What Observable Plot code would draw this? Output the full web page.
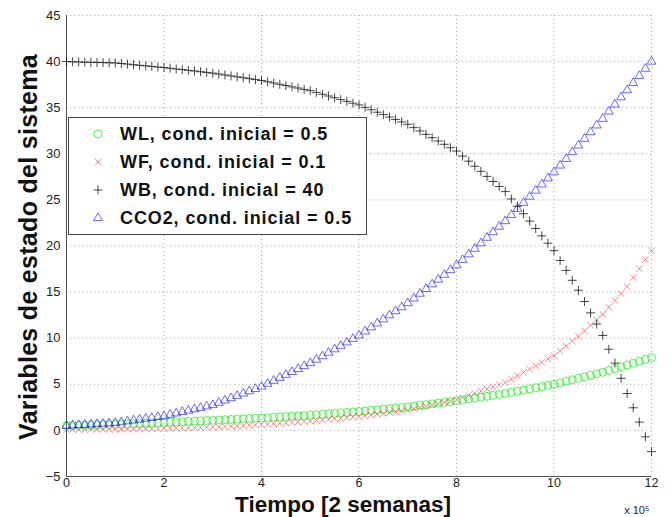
<!DOCTYPE html>
<html>
<head>
<meta charset="utf-8">
<script src="https://cdn.jsdelivr.net/npm/d3@7"></script>
<script src="https://cdn.jsdelivr.net/npm/@observablehq/plot@0.6"></script>
<style>
  html, body { margin: 0; padding: 0; background: #fff; }
  #wrap { position: relative; width: 667px; height: 517px; }
  #legend { position: absolute; left: 68px; top: 117px; width: 299px; height: 118px;
    border: 1px solid #444; background: #fff; box-sizing: border-box;
    font-family: "Liberation Sans", Arial, sans-serif; font-weight: bold; font-size: 18px; letter-spacing: 0.9px; color: #111; }
  .row { position: absolute; left: 0; height: 28px; display: flex; align-items: center; white-space: nowrap; }
  .row svg { width: 20px; height: 20px; margin-left: 19px; margin-right: 12px; }
</style>
</head>
<body>
<div id="wrap"><div id="legend"></div></div>
<script>
// Time, units of 10^5 (2 semanas)
const time = [0,0.125,0.25,0.375,0.5,0.625,0.75,0.875,
1,1.125,1.25,1.375,1.5,1.625,1.75,1.875,
2,2.125,2.25,2.375,2.5,2.625,2.75,2.875,
3,3.125,3.25,3.375,3.5,3.625,3.75,3.875,
4,4.125,4.25,4.375,4.5,4.625,4.75,4.875,
5,5.125,5.25,5.375,5.5,5.625,5.75,5.875,
6,6.125,6.25,6.375,6.5,6.625,6.75,6.875,
7,7.125,7.25,7.375,7.5,7.625,7.75,7.875,
8,8.125,8.25,8.375,8.5,8.625,8.75,8.875,
9,9.125,9.25,9.375,9.5,9.625,9.75,9.875,
10,10.125,10.25,10.375,10.5,10.625,10.75,10.875,
11,11.125,11.25,11.375,11.5,11.625,11.75,11.875,
12];

const WL = [0.5,0.52,0.54,0.56,0.58,0.59,0.61,0.63,
0.65,0.68,0.7,0.73,0.75,0.78,0.8,0.83,
0.85,0.88,0.91,0.94,0.98,1.01,1.04,1.07,
1.1,1.13,1.16,1.19,1.23,1.26,1.29,1.32,
1.35,1.39,1.43,1.46,1.5,1.54,1.58,1.61,
1.65,1.7,1.75,1.8,1.85,1.9,1.95,2.0,
2.05,2.11,2.18,2.24,2.3,2.36,2.43,2.49,
2.55,2.63,2.71,2.79,2.88,2.96,3.04,3.12,
3.2,3.3,3.4,3.5,3.6,3.7,3.8,3.9,
4.0,4.13,4.25,4.38,4.5,4.63,4.75,4.88,
5.0,5.16,5.33,5.49,5.65,5.81,5.98,6.14,
6.3,6.5,6.7,6.9,7.1,7.3,7.5,7.7,
7.9];

const WF = [0.1,0.1,0.1,0.11,0.11,0.11,0.12,0.12,
0.12,0.13,0.14,0.15,0.16,0.17,0.18,0.19,
0.2,0.22,0.24,0.26,0.28,0.29,0.31,0.33,
0.35,0.38,0.42,0.45,0.49,0.52,0.55,0.59,
0.62,0.67,0.72,0.76,0.81,0.86,0.91,0.95,
1.0,1.06,1.13,1.19,1.25,1.31,1.38,1.44,
1.5,1.59,1.68,1.76,1.85,1.94,2.03,2.11,
2.2,2.34,2.48,2.61,2.75,2.89,3.03,3.16,
3.3,3.54,3.78,4.01,4.25,4.49,4.73,4.96,
5.2,5.56,5.93,6.29,6.65,7.01,7.38,7.74,
8.1,8.63,9.15,9.68,10.2,10.8,11.4,12.0,
12.6,13.35,14.1,14.85,15.6,16.58,17.55,18.53,
19.5];

const WB = [40.0,39.98,39.96,39.94,39.93,39.91,39.89,39.87,
39.85,39.79,39.73,39.66,39.6,39.54,39.48,39.41,
39.35,39.28,39.2,39.13,39.05,38.98,38.9,38.83,
38.75,38.65,38.55,38.45,38.35,38.25,38.15,38.05,
37.95,37.81,37.68,37.54,37.4,37.26,37.13,36.99,
36.85,36.66,36.46,36.27,36.08,35.88,35.69,35.49,
35.3,35.04,34.78,34.51,34.25,33.99,33.73,33.46,
33.2,32.84,32.48,32.11,31.75,31.39,31.03,30.66,
30.3,29.75,29.2,28.65,28.1,27.55,27.0,26.45,
25.9,25.1,24.3,23.5,22.7,21.9,21.1,20.3,
19.5,18.43,17.35,16.28,15.2,13.98,12.75,11.53,
10.3,8.8,7.3,5.65,4.0,2.45,0.9,-0.7,
-2.3];

const CCO2 = [0.5,0.54,0.58,0.61,0.65,0.69,0.73,0.76,
0.8,0.89,0.99,1.08,1.18,1.27,1.36,1.46,
1.55,1.7,1.85,2.0,2.15,2.3,2.45,2.6,
2.75,3.0,3.25,3.5,3.75,4.0,4.25,4.5,
4.75,5.07,5.39,5.71,6.03,6.34,6.66,6.98,
7.3,7.68,8.05,8.43,8.8,9.18,9.55,9.93,
10.3,10.74,11.18,11.61,12.05,12.49,12.93,13.36,
13.8,14.31,14.83,15.34,15.85,16.36,16.88,17.39,
17.9,18.5,19.1,19.7,20.3,20.9,21.5,22.1,
22.7,23.36,24.03,24.69,25.35,26.01,26.68,27.34,
28.0,28.73,29.45,30.18,30.9,31.63,32.35,33.08,
33.8,34.58,35.35,36.13,36.9,37.68,38.45,39.23,
40.0];

const seriesNames = ["WL, cond. inicial = 0.5", "WF, cond. inicial = 0.1", "WB, cond. inicial = 40", "CCO2, cond. inicial = 0.5"];
const seriesValues = [WL, WF, WB, CCO2];
const xTicks = [0, 2, 4, 6, 8, 10, 12];
const yTicks = [-5, 0, 5, 10, 15, 20, 25, 30, 35, 40, 45];
const xLabel = "Tiempo [2 semanas]";
const yLabel = "Variables de estado del sistema";
const xExponent = "x 10⁵";

// styles (kept apart from data)
const styles = [
  {symbol: "circle", r: 4, stroke: "#00ee00", opacity: 0.75, width: 0.9},
  {symbol: "times", r: 3, stroke: "#ff2020", opacity: 0.55, width: 1},
  {symbol: "plus", r: 3, stroke: "#000000", opacity: 0.72, width: 1},
  {symbol: "triangle", r: 3.3, stroke: "#1010ff", opacity: 0.7, width: 0.9}
];

const tables = seriesValues.map(vals => time.map((t, i) => ({t, v: vals[i]})));

const font = "'Liberation Sans', Arial, Helvetica, sans-serif";

const chart = Plot.plot({
  width: 667,
  height: 517,
  marginLeft: 66,
  marginRight: 16,
  marginTop: 15,
  marginBottom: 41,
  style: {fontFamily: font, background: "#fff", overflow: "visible"},
  x: {domain: [0, 12], label: null},
  y: {domain: [-5, 45], label: null},
  marks: [
    Plot.gridX(xTicks, {stroke: "#b0b0b0", strokeOpacity: 1, strokeDasharray: "1.2,2.8"}),
    Plot.gridY(yTicks, {stroke: "#b0b0b0", strokeOpacity: 1, strokeDasharray: "1.2,2.8"}),
    Plot.ruleX([0], {stroke: "#505050"}),
    Plot.ruleY([-5], {stroke: "#505050"}),
    Plot.axisX(xTicks, {tickSize: 0, tickPadding: 2, fontSize: 12.5, label: null, color: "#222"}),
    Plot.axisY(yTicks, {tickSize: 0, tickPadding: 6, fontSize: 13, label: null, color: "#222"}),
    ...tables.map((tab, i) => Plot.dot(tab, {
      x: "t", y: "v", symbol: () => styles[i].symbol, r: styles[i].r,
      stroke: styles[i].stroke, strokeOpacity: styles[i].opacity, strokeWidth: styles[i].width, fill: "none"
    })),
    Plot.text([xLabel], {frameAnchor: "bottom", textAnchor: "middle", lineAnchor: "middle", dx: -16, dy: 28,
      fontSize: 22.5, fontWeight: "bold", fill: "#111"}),
    Plot.text([yLabel], {frameAnchor: "left", textAnchor: "middle", lineAnchor: "middle", rotate: -90, dx: -38, dy: 1,
      fontSize: 25, fontWeight: "bold", fill: "#111"}),
    Plot.text([xExponent], {frameAnchor: "bottom-right", textAnchor: "end", lineAnchor: "middle", dx: -2, dy: 34,
      fontSize: 11, fill: "#222"})
  ]
});

document.getElementById("wrap").insertBefore(chart, document.getElementById("legend"));

// y label letter spacing (applied on the rendered text)
d3.select(chart).selectAll("text").filter(function() { return this.textContent === yLabel; })
  .style("letter-spacing", "0.3px");

// legend
const legend = d3.select("#legend");
seriesNames.forEach((name, i) => {
  const row = legend.append("div").attr("class", "row").style("top", (2 + i * 28) + "px");
  const svg = row.append("svg").attr("viewBox", "-10 -10 20 20");
  const s = styles[i];
  const sym = {circle: d3.symbolCircle, times: d3.symbolTimes, plus: d3.symbolPlus, triangle: d3.symbolTriangle}[s.symbol];
  svg.append("path").attr("d", d3.symbol(sym, Math.PI * s.r * s.r)())
    .attr("fill", "none").attr("stroke", s.stroke).attr("stroke-opacity", s.opacity).attr("stroke-width", s.width);
  row.append("span").text(name);
});
</script>
</body>
</html>
